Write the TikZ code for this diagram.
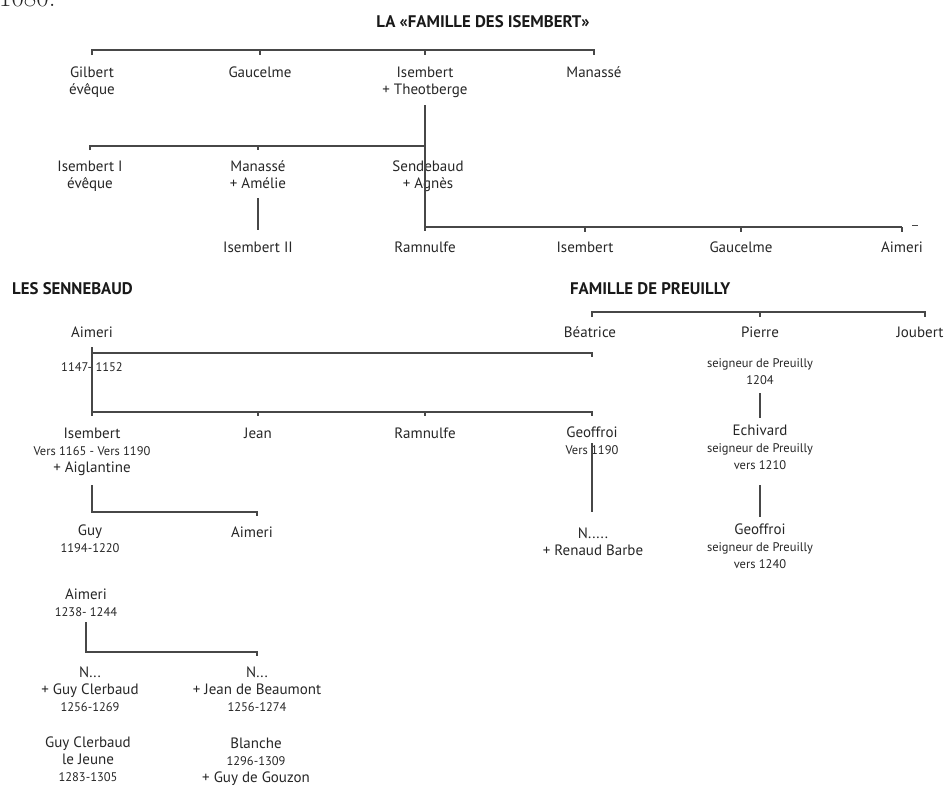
\documentclass[tikz,border=0pt]{standalone}
\usepackage{fontspec}
\newfontfamily\ptsans{PT Sans}
\usetikzlibrary{calc}
\newcommand\nmfont{\ptsans\fontsize{15}{17}\selectfont}
\newcommand\smfont{\ptsans\fontsize{12.5}{16.5}\selectfont}
\newcommand\hdfont{\ptsans\bfseries\fontsize{16.8}{19}\selectfont}
\tikzset{
	ln/.style={draw=black!72, line width=1.3pt},
	nm/.style={anchor=base, align=center, inner sep=0pt, text=black!85, font=\nmfont},
	sm/.style={nm, font=\smfont},
	hd/.style={anchor=base west, inner sep=0pt, text=black!90, font=\hdfont},
}

\begin{document}
\begin{tikzpicture}[x=1pt, y=-1pt]
			%%%%% START %%%%%
			\useasboundingbox (0,0) rectangle (947,785);
			\node[anchor=base west, inner sep=0pt, text=black!85, font=\fontsize{27}{30}\selectfont] (pgno) at (-1,6) {1080.};
			
			% la famille des Isembert (base = last line)
			\node[hd, anchor=base] (titleA) at (483,27) {LA «FAMILLE DES ISEMBERT»};
			\node[nm] (gilbert) at (92,94) {Gilbert\\évêque};
			\node[nm] (gaucelme) at (260,77) {Gaucelme};
			\node[nm] (isembert) at (425,94) {Isembert\\+ Theotberge};
			\node[nm] (manasse) at (594,77) {Manassé};
			
			\node[nm] (isembertI) at (90,188) {Isembert I\\évêque};
			\node[nm] (manasseA) at (258,188) {Manassé\\+ Amélie};
			\node[nm] (sendebaud) at (428,188) {Sendebaud\\+ Agnès};
			
			\node[nm] (isembertII) at (258,252) {Isembert II};
			\node[nm] (ramnulfe) at (425,252) {Ramnulfe};
			\node[nm] (isembertR) at (585,252) {Isembert};
			\node[nm] (gaucelmeR) at (741,252) {Gaucelme};
			\node[nm] (aimeriR) at (902,252) {Aimeri};
			
			\coordinate (barA) at (0,50);
			\coordinate (tkA) at (0,55);
			\draw[ln] (gilbert |- tkA) -- (gilbert |- barA) -- (manasse |- barA) -- (manasse |- tkA);
			\foreach \n in {gaucelme,isembert}
				\draw[ln] (\n |- barA) -- (\n |- tkA);
			
			\coordinate (barB) at (0,146);
			\coordinate (tkB) at (0,150);
			\draw[ln] (isembert |- 0,105) -- (isembert |- 0,231);
			\draw[ln] (isembertI |- tkB) -- (isembertI |- barB) -- (isembert |- barB);
			\draw[ln] (manasseA |- barB) -- (manasseA |- tkB);
			\draw[ln] (manasseA |- 0,198) -- (manasseA |- 0,230);
			
			\coordinate (barC) at (0,227);
			\coordinate (tkC) at (0,232);
			\draw[ln] (isembert |- barC) -- (aimeriR |- barC);
			\foreach \n in {isembertR,gaucelmeR,aimeriR}
				\draw[ln] (\n |- barC) -- (\n |- tkC);
			\draw[ln, line width=1pt] (912,225) -- (918,225);
			
			% les Sennebaud
			\node[hd] (titleB) at (12,294) {LES SENNEBAUD};
			\node[nm] (aimeriS) at (92,337) {Aimeri};
			\node[sm] (datesS) at (92,371) {1147- 1152};
			\node[nm] (isembertS) at (92,472) {Isembert\\{\smfont Vers 1165 - Vers 1190}\\+ Aiglantine};
			\node[nm] (jean) at (258,438) {Jean};
			\node[nm] (ramnulfeS) at (425,438) {Ramnulfe};
			\node[nm] (geoffroiS) at (592,454) {Geoffroi\\{\smfont Vers 1190}};
			\node[nm] (nRenaud) at (593,555) {N.....\\+ Renaud Barbe};
			
			\node[nm] (guy) at (90,552) {Guy\\{\smfont 1194-1220}};
			\node[nm] (aimeriG) at (252,537) {Aimeri};
			\node[nm] (aimeriT) at (86,616) {Aimeri\\{\smfont 1238- 1244}};
			\node[nm] (nGuy) at (90,711) {N...\\+ Guy Clerbaud\\{\smfont 1256-1269}};
			\node[nm] (nJean) at (257,711) {N...\\+ Jean de Beaumont\\{\smfont 1256-1274}};
			\node[nm] (guyJ) at (88,781) {Guy Clerbaud\\le Jeune\\{\smfont 1283-1305}};
			\node[nm] (blanche) at (256,782) {Blanche\\{\smfont 1296-1309}\\+ Guy de Gouzon};
			
			\draw[ln] (aimeriS |- 0,347) -- (aimeriS |- 0,416);
			\draw[ln] (aimeriS |- 0,353) -- (geoffroiS |- 0,353) -- (geoffroiS |- 0,357);
			\draw[ln] (aimeriS |- 0,412) -- (geoffroiS |- 0,412) -- (geoffroiS |- 0,416);
			\foreach \n in {jean,ramnulfeS}
				\draw[ln] (\n |- 0,412) -- (\n |- 0,416);
			\draw[ln] (geoffroiS |- 0,443) -- (geoffroiS |- 0,512);
			
			\draw[ln] (isembertS |- 0,485) -- (isembertS |- 0,512) -- (nJean |- 0,512) -- (nJean |- 0,516);
			\draw[ln] (aimeriT |- 0,622) -- (aimeriT |- 0,652) -- (nJean |- 0,652) -- (nJean |- 0,656);
			
			% famille de Preuilly
			\node[hd] (titleC) at (570,294) {FAMILLE DE PREUILLY};
			\node[nm] (beatrice) at (590,337) {Béatrice};
			\node[nm] (pierre) at (760,337) {Pierre};
			\node[nm] (joubert) at (920,337) {Joubert};
			\node[sm] (pierreS) at (760,384) {seigneur de Preuilly\\1204};
			\node[nm] (echivard) at (760,469) {Echivard\\{\smfont seigneur de Preuilly}\\{\smfont vers 1210}};
			\node[nm] (geoffroiP) at (760,568) {Geoffroi\\{\smfont seigneur de Preuilly}\\{\smfont vers 1240}};
			
			\draw[ln] (geoffroiS |- 0,317) -- (geoffroiS |- 0,312) -- (925,312) -- (925,317);
			\draw[ln] (pierre |- 0,312) -- (pierre |- 0,317);
			\draw[ln] (pierre |- 0,393) -- (pierre |- 0,418);
			\draw[ln] (pierre |- 0,485) -- (pierre |- 0,517);
			%%%%% END %%%%%
\end{tikzpicture}
\end{document}
